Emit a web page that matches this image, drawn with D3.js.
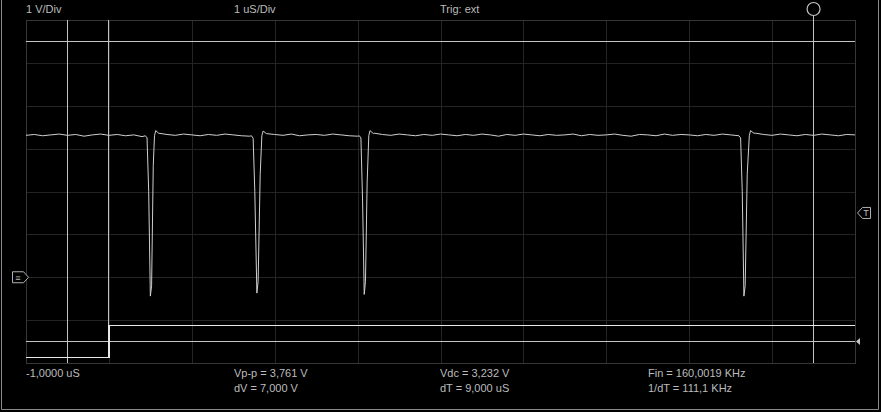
<!DOCTYPE html>
<html>
<head>
	<title> scope capture </title>
	<script src="https://d3js.org/d3.v7.min.js"></script>
	<style>
		body { margin: 0; background: black; }
		text { font-family: "Liberation Sans Narrow", "Arial Narrow", "Liberation Sans", sans-serif; font-size: 11px; fill: #bcbcbc; }
	</style>
</head>

<body>
	<svg id="scope"></svg>

	<script type="text/javascript">

		// channel 1 baseline samples, one every 0.1 uS from -1.0 to 9.0 uS (values in V)
		const baseStart = -1.0;
		const baseStep = 0.1;
		const baseV = [
			3.31, 3.33, 3.30, 3.32, 3.34, 3.31, 3.33, 3.29, 3.32, 3.34,
			3.31, 3.33, 3.30, 3.32, 3.28, 3.32, 3.36, 3.33, 3.31, 3.34,
			3.32, 3.30, 3.33, 3.31, 3.34, 3.32, 3.30, 3.29, 3.32, 3.35,
			3.33, 3.31, 3.34, 3.30, 3.32, 3.33, 3.31, 3.34, 3.32, 3.30,
			3.29, 3.32, 3.36, 3.33, 3.31, 3.34, 3.32, 3.30, 3.33, 3.31,
			3.34, 3.32, 3.30, 3.33, 3.31, 3.34, 3.32, 3.29, 3.33, 3.31,
			3.34, 3.32, 3.30, 3.33, 3.31, 3.32, 3.34, 3.30, 3.33, 3.31,
			3.32, 3.34, 3.31, 3.29, 3.33, 3.32, 3.30, 3.34, 3.31, 3.33,
			3.32, 3.30, 3.33, 3.31, 3.34, 3.32, 3.29, 3.32, 3.36, 3.33,
			3.31, 3.34, 3.32, 3.30, 3.33, 3.31, 3.34, 3.32, 3.30, 3.33,
			3.32
		];

		// the four negative spikes, [time uS, volts]
		const dip1 = [[0.44, 3.30], [0.46, 3.25], [0.48, 2.0], [0.50, -0.44], [0.515, -0.2], [0.535, 2.6], [0.55, 3.30], [0.565, 3.42], [0.60, 3.36]];
		const dip2 = [[1.72, 3.30], [1.74, 3.24], [1.76, 2.0], [1.785, -0.37], [1.80, -0.1], [1.825, 2.4], [1.845, 3.30], [1.86, 3.41], [1.90, 3.35]];
		const dip3 = [[3.02, 3.30], [3.04, 3.25], [3.06, 1.8], [3.08, -0.40], [3.095, -0.1], [3.115, 2.2], [3.135, 3.30], [3.15, 3.42], [3.19, 3.35]];
		const dip4 = [[7.60, 3.30], [7.62, 3.25], [7.64, 2.0], [7.66, -0.44], [7.675, -0.2], [7.70, 2.4], [7.725, 3.30], [7.74, 3.42], [7.78, 3.36]];
		const dips = [dip1, dip2, dip3, dip4];

		// external trigger input (digital)
		const digT = [-1.0, 0.0, 0.0, 9.0];
		const digV = [-1.87, -1.87, -1.12, -1.12];

		// cursors
		const timeCursors = [-0.5, 8.5];
		const voltCursors = [5.5, -1.5];
		const trigTime = 0.0;
		const trigLevel = 1.5;
		const groundLevel = 0.0;

		// readouts
		const topLabels = ["1 V/Div", "1 uS/Div", "Trig: ext"];
		const readRow1 = ["-1,0000 uS", "Vp-p = 3,761 V", "Vdc = 3,232 V", "Fin = 160,0019 KHz"];
		const readRow2 = ["", "dV = 7,000 V", "dT = 9,000 uS", "1/dT = 111,1 KHz"];

		const w = 881;
		const h = 412;
		const left_border = 26;
		const right_edge = 855;
		const top_border = 20;
		const bottom_edge = 363;

		const svg = d3.select("#scope").attr("width", w).attr("height", h);
		svg.append("rect").attr("width", w).attr("height", h).style("fill", "black");

		let x_scale = d3.scaleLinear().domain([-1, 9]).range([left_border, right_edge]);
		let y_scale = d3.scaleLinear().domain([-2, 6]).range([bottom_edge, top_border]);

		// grid via axes with full length ticks
		const xgrid = d3.axisBottom(x_scale).ticks(10).tickSize(-(bottom_edge - top_border)).tickFormat("");
		const gx = svg.append("g").attr("transform", "translate(0," + bottom_edge + ")").call(xgrid);
		const ygrid = d3.axisLeft(y_scale).ticks(8).tickSize(-(right_edge - left_border)).tickFormat("");
		const gy = svg.append("g").attr("transform", "translate(" + left_border + ",0)").call(ygrid);
		svg.selectAll(".tick line").style("stroke", "#242424").style("shape-rendering", "crispEdges");
		svg.selectAll(".domain").remove();

		svg.append("rect")
			.attr("x", left_border).attr("y", top_border)
			.attr("width", right_edge - left_border).attr("height", bottom_edge - top_border)
			.style("fill", "none").style("stroke", "#363636").style("shape-rendering", "crispEdges");

		// outer frame
		svg.append("path")
			.attr("d", "M1.5,0 V409.5 H878.5 V0")
			.style("fill", "none").style("stroke", "#8a8a8a");

		const cursorColor = "#c4c4c4";

		// time cursors
		svg.selectAll("line.tcur").data(timeCursors).join("line").attr("class", "tcur")
			.attr("x1", d => x_scale(d)).attr("x2", d => x_scale(d))
			.attr("y1", (d, i) => i == 1 ? 16 : top_border).attr("y2", bottom_edge)
			.style("stroke", cursorColor).style("shape-rendering", "crispEdges");
		svg.append("circle").attr("cx", x_scale(timeCursors[1])).attr("cy", 9).attr("r", 6.5)
			.style("fill", "black").style("stroke", cursorColor).style("stroke-width", 1.2);

		// volt cursors
		svg.selectAll("line.vcur").data(voltCursors).join("line").attr("class", "vcur")
			.attr("x1", left_border).attr("x2", right_edge)
			.attr("y1", d => y_scale(d)).attr("y2", d => y_scale(d))
			.style("stroke", cursorColor).style("shape-rendering", "crispEdges");
		const ym = y_scale(voltCursors[1]);
		svg.append("path").attr("d", "M" + (right_edge + 1) + "," + ym + " l4,-3.5 v7 z").style("fill", cursorColor);

		// trigger position line
		svg.append("line")
			.attr("x1", x_scale(trigTime)).attr("x2", x_scale(trigTime))
			.attr("y1", top_border).attr("y2", y_scale(digV[2]))
			.style("stroke", cursorColor).style("shape-rendering", "crispEdges");

		// digital trace
		const digLine = d3.line().x(d => x_scale(d[0])).y(d => y_scale(d[1]));
		svg.append("path").datum(d3.zip(digT, digV)).attr("d", digLine)
			.style("fill", "none").style("stroke", "#e8e8e8").style("stroke-width", 1.2).style("shape-rendering", "crispEdges");

		// build analog trace: baseline samples outside the spikes, spike points inside
		let pts = [];
		baseV.forEach(function(v, i) {
			const t = baseStart + i * baseStep;
			const inDip = dips.some(dp => t >= dp[0][0] && t <= dp[dp.length - 1][0]);
			if (!inDip) pts.push([t, v]);
		});
		dips.forEach(dp => dp.forEach(p => pts.push(p)));
		pts.sort((a, b) => a[0] - b[0]);

		const traceLine = d3.line().x(d => x_scale(d[0])).y(d => y_scale(d[1]));
		svg.append("path").datum(pts).attr("d", traceLine)
			.style("fill", "none").style("stroke", "#cfcfcf").style("stroke-width", 1.0);

		// ground marker on the left
		const yg = y_scale(groundLevel);
		svg.append("path").attr("d", "M12.5," + (yg - 5.5) + " h11 l5,5.5 l-5,5.5 h-11 z")
			.style("fill", "black").style("stroke", "#b0b0b0");
		svg.append("text").attr("x", 18).attr("y", yg + 3.5).attr("text-anchor", "middle")
			.style("font-size", "9px").text("≡");

		// trigger level marker on the right
		const yt = y_scale(trigLevel);
		svg.append("path").attr("d", "M857.5," + yt + " l5,-5.5 h8 v11 h-8 z")
			.style("fill", "black").style("stroke", "#b0b0b0");
		svg.append("text").attr("x", 866).attr("y", yt + 3.5).attr("text-anchor", "middle")
			.style("font-size", "9px").text("T");

		// readouts
		const topX = [26, 234, 440];
		svg.selectAll("text.top").data(topLabels).join("text").attr("class", "top")
			.attr("x", (d, i) => topX[i]).attr("y", 13).text(d => d);

		const colX = [26, 234, 440, 648];
		svg.selectAll("text.r1").data(readRow1).join("text").attr("class", "r1")
			.attr("x", (d, i) => colX[i]).attr("y", 377).text(d => d);
		svg.selectAll("text.r2").data(readRow2).join("text").attr("class", "r2")
			.attr("x", (d, i) => colX[i]).attr("y", 392).text(d => d);

	</script>
</body>
</html>
